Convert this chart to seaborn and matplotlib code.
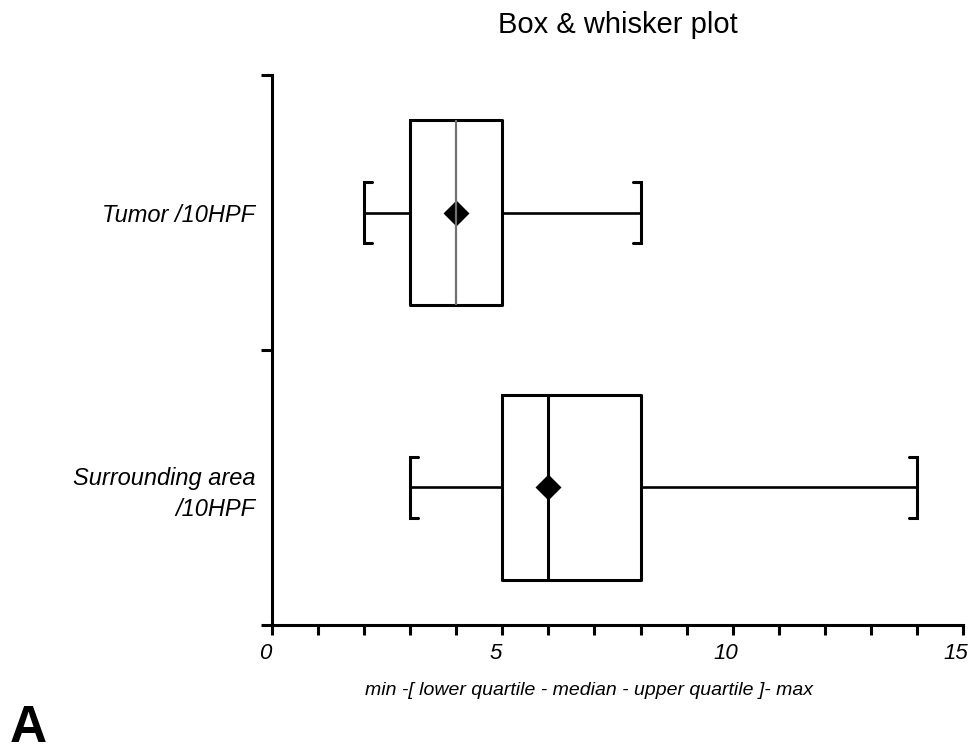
import matplotlib
matplotlib.use("Agg")
import matplotlib.pyplot as plt
from matplotlib.ticker import MultipleLocator
from matplotlib.transforms import ScaledTranslation
import pandas as pd
import seaborn as sns

# summary values
categories = ["Tumor /10HPF", "Surrounding area\n/10HPF"]
mins = [2, 3]
q1s = [3, 5]
medians = [4, 6]
q3s = [5, 8]
maxs = [8, 14]
means = [4, 6]
median_colors = ["#707070", "black"]

# five-number summaries as long-form rows; whis=(0, 100) sends whiskers to min/max
rows = []
for cat, lo, a, m, b, hi in zip(categories, mins, q1s, medians, q3s, maxs):
    for v in (lo, a, m, b, hi):
        rows.append({"group": cat, "count": v})
df = pd.DataFrame(rows)

sns.set_theme(style="ticks")
plt.rcParams["font.family"] = ["Liberation Sans", "DejaVu Sans"]

fig = plt.figure(figsize=(9.79, 7.54), dpi=100)
ax = fig.add_axes([0.2778, 0.1711, 0.7059, 0.7294])

sns.boxplot(data=df, x="count", y="group", order=categories, orient="h",
            whis=(0, 100), width=0.67, fill=False, color="black",
            linewidth=2.2, whiskerprops={"linewidth": 1.9},
            capprops={"linewidth": 2.2}, ax=ax)

# bracket-style caps
box = ax.containers[0]
stub = 0.17
half = 0.11
for i, cap in enumerate(box.caps):
    x = cap.get_xdata()[0]
    y0, y1 = cap.get_ydata()
    mid = (y0 + y1) / 2
    d = stub if i % 2 == 0 else -stub
    cap.set_data([x + d, x, x, x + d], [mid - half, mid - half, mid + half, mid + half])
    cap.set_solid_joinstyle("miter")

for med, c in zip(box.medians, median_colors):
    med.set_color(c)
box.medians[0].set_linewidth(1.6)

# mean markers
sns.pointplot(x=means, y=categories, order=categories, orient="h",
              linestyle="none", marker="D", color="black", markersize=11,
              errorbar=None, ax=ax)

ax.set_xlim(0, 15)
ax.set_ylim(1.5, -0.5)
ax.xaxis.set_major_locator(MultipleLocator(5))
ax.xaxis.set_minor_locator(MultipleLocator(1))
ax.tick_params(axis="x", which="both", direction="out", length=7, width=2.2,
               labelsize=16, pad=6, color="black")
ax.set_yticks([-0.5, 0.5, 1.5])
ax.set_yticklabels([])
ax.set_yticks([0, 1], minor=True)
ax.set_yticklabels(categories, minor=True, linespacing=1.45)
ax.tick_params(axis="y", which="major", length=8, width=2.2, color="black")
ax.tick_params(axis="y", which="minor", length=0, pad=12, labelsize=17)
shift = ScaledTranslation(-0.07, 0, fig.dpi_scale_trans)
for lbl in ax.get_xticklabels():
    lbl.set_fontstyle("italic")
    lbl.set_color("black")
    lbl.set_transform(lbl.get_transform() + shift)
for lbl in ax.get_yticklabels(minor=True):
    lbl.set_fontstyle("italic")
    lbl.set_color("black")

sns.despine(ax=ax)
for s in ("left", "bottom"):
    ax.spines[s].set_linewidth(2.2)
    ax.spines[s].set_color("black")

ax.set_ylabel("")
ax.set_xlabel("min -[ lower quartile - median - upper quartile ]- max",
              fontsize=14, fontstyle="italic", color="black")
ax.xaxis.set_label_coords(0.459, -0.104)
ax.set_title("Box & whisker plot", fontsize=21, pad=30, color="black")

fig.text(0.01, 0.016, "A", fontsize=37, fontweight="bold", color="black",
         ha="left", va="baseline")

fig.savefig("out.png", dpi=100)
